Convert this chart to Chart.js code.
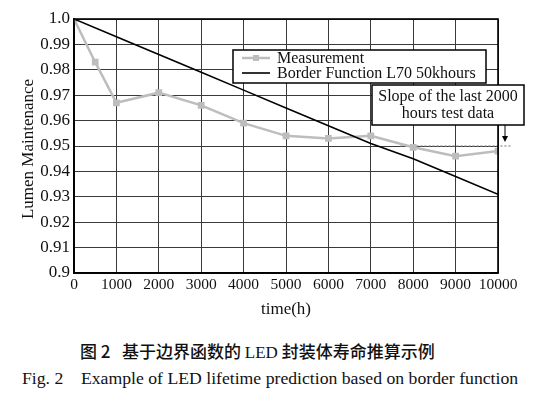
<!DOCTYPE html>
<html>
<head>
<meta charset="utf-8">
<script src="https://cdn.jsdelivr.net/npm/chart.js@4.4.0/dist/chart.umd.min.js"></script>
<style>
  html, body { margin: 0; padding: 0; background: #fff; }
  #wrap { position: relative; width: 552px; height: 403px; overflow: hidden; }
  #c { position: absolute; left: 0; top: 0; }
  .cap1 { position: absolute; left: 80px; top: 338px; font-family: "Noto Sans CJK SC", sans-serif; font-weight: 500; font-size: 17px; color: #111; white-space: nowrap; }
  .cap2 { position: absolute; left: 22px; top: 368px; font-family: "Liberation Serif", serif; font-size: 17.7px; color: #111; white-space: nowrap; }
</style>
</head>
<body>
<div id="wrap">
  <canvas id="c" width="552" height="320"></canvas>
  <div class="cap1">图 2&nbsp;&nbsp;&nbsp;基于边界函数的 <span style="font-family:'Liberation Serif',serif;font-weight:400">LED</span> 封装体寿命推算示例</div>
  <div class="cap2">Fig. 2&nbsp;&nbsp;&nbsp;&nbsp;Example of LED lifetime prediction based on border function</div>
</div>
<script>
// ---- data ----
const measHours   = [0, 500, 1000, 2000, 3000, 4000, 5000, 6000, 7000, 8000, 9000, 10000];
const measValues  = [1.0, 0.983, 0.967, 0.971, 0.966, 0.959, 0.954, 0.953, 0.954, 0.9495, 0.946, 0.948];
const borderHours = [0, 1000, 2000, 3000, 4000, 5000, 6000, 7000, 8000, 9000, 10000];
const borderValues= [1.0, 0.993, 0.986, 0.979, 0.972, 0.965, 0.958, 0.951, 0.945, 0.938, 0.931];
const slopeHours  = [7700, 10300];
const slopeValues = [0.95, 0.95];
const xTickValues = [0, 1000, 2000, 3000, 4000, 5000, 6000, 7000, 8000, 9000, 10000];
const xTickLabels = ['0','1000','2000','3000','4000','5000','6000','7000','8000','9000','10000'];
const yTickValues = [0.9, 0.91, 0.92, 0.93, 0.94, 0.95, 0.96, 0.97, 0.98, 0.99, 1.0];
const yTickLabels = ['0.9','0.91','0.92','0.93','0.94','0.95','0.96','0.97','0.98','0.99','1.0'];
const seriesNames = ['Measurement', 'Border Function L70 50khours', 'Slope'];
const noteLines   = ['Slope of the last 2000', 'hours test data'];
const xTitle = 'time(h)';
const yTitle = 'Lumen Maintenance';

const SERIF = "'Liberation Serif', serif";
const GRAY = '#bdbdbd';

const toPts = (xs, ys) => xs.map((x, i) => ({ x: x, y: ys[i] }));

const overlay = {
  id: 'overlay',
  afterDatasetsDraw(chart) {
    const ctx = chart.ctx, a = chart.chartArea;
    ctx.save();
    ctx.strokeStyle = '#000'; ctx.lineWidth = 1.6;
    ctx.strokeRect(a.left, a.top, a.right - a.left, a.bottom - a.top);
    // y-axis title
    ctx.save();
    ctx.translate(29, (a.top + a.bottom) / 2 + 3);
    ctx.rotate(-Math.PI / 2);
    ctx.font = '17px ' + SERIF; ctx.fillStyle = '#111';
    ctx.textAlign = 'center'; ctx.textBaseline = 'middle';
    ctx.fillText(yTitle, 0, 0);
    ctx.restore();
    // legend box
    const lx = 233, ly = 50, lw = 253, lh = 33;
    ctx.fillStyle = '#fff'; ctx.fillRect(lx, ly, lw, lh);
    ctx.strokeStyle = '#000'; ctx.lineWidth = 1.5; ctx.strokeRect(lx, ly, lw, lh);
    const ds = chart.data.datasets;
    const rows = [58, 73];
    ctx.font = '16px ' + SERIF; ctx.textBaseline = 'middle'; ctx.textAlign = 'left';
    for (let i = 0; i < 2; i++) {
      const y = rows[i];
      ctx.strokeStyle = ds[i].borderColor; ctx.lineWidth = ds[i].borderWidth;
      ctx.beginPath(); ctx.moveTo(242, y); ctx.lineTo(270, y); ctx.stroke();
      if (ds[i].pointRadius > 0) {
        ctx.fillStyle = ds[i].pointBackgroundColor;
        ctx.fillRect(256 - 3, y - 3, 6, 6);
      }
      ctx.fillStyle = '#111';
      ctx.fillText(ds[i].label, 277, y + 1);
    }
    // annotation box
    const bx = 372, by = 85, bw = 152, bh = 40;
    ctx.fillStyle = '#fff'; ctx.fillRect(bx, by, bw, bh);
    ctx.strokeStyle = '#000'; ctx.lineWidth = 1.5; ctx.strokeRect(bx, by, bw, bh);
    ctx.fillStyle = '#111'; ctx.textAlign = 'center';
    ctx.fillText(noteLines[0], bx + bw / 2, by + 12);
    ctx.fillText(noteLines[1], bx + bw / 2, by + 29);
    // arrow
    ctx.strokeStyle = '#000'; ctx.lineWidth = 1;
    ctx.beginPath(); ctx.moveTo(505, by + bh); ctx.lineTo(505, 138); ctx.stroke();
    ctx.fillStyle = '#000';
    ctx.beginPath(); ctx.moveTo(502, 136); ctx.lineTo(508, 136); ctx.lineTo(505, 142); ctx.closePath(); ctx.fill();
    ctx.restore();
  }
};

function build() {
  new Chart(document.getElementById('c'), {
    type: 'line',
    data: {
      datasets: [
        { label: seriesNames[0], data: toPts(measHours, measValues), borderColor: GRAY, borderWidth: 2.5,
          pointStyle: 'rect', pointRadius: 3, pointBackgroundColor: GRAY, pointBorderColor: GRAY, tension: 0, order: 2 },
        { label: seriesNames[1], data: toPts(borderHours, borderValues), borderColor: '#000', borderWidth: 1.6,
          pointRadius: 0, tension: 0, order: 1 },
        { label: seriesNames[2], data: toPts(slopeHours, slopeValues), borderColor: '#888', borderWidth: 1.2,
          borderDash: [2, 2], pointRadius: 0, tension: 0, clip: false, order: 3 }
      ]
    },
    options: {
      responsive: false,
      animation: false,
      devicePixelRatio: 1,
      layout: { padding: { left: 0, right: 54, top: 19, bottom: 0 } },
      plugins: { legend: { display: false }, tooltip: { enabled: false } },
      scales: {
        x: {
          type: 'linear', min: 0, max: 10000,
          afterBuildTicks: s => { s.ticks = xTickValues.map(v => ({ value: v })); },
          afterFit: s => { s.height = 47; },
          ticks: { callback: (v, i) => xTickLabels[i], color: '#111', font: { family: SERIF, size: 15.5 }, padding: 3, maxRotation: 0, autoSkip: false },
          grid: { color: '#3a3a3a', lineWidth: 1, drawTicks: false },
          border: { color: '#000', width: 1.6 },
          title: { display: true, text: xTitle, color: '#111', font: { family: SERIF, size: 17 }, padding: { top: 0, bottom: 0 } }
        },
        y: {
          type: 'linear', min: 0.9, max: 1.0,
          afterBuildTicks: s => { s.ticks = yTickValues.map(v => ({ value: v })); },
          afterFit: s => { s.width = 74; },
          ticks: { callback: (v, i) => yTickLabels[i], color: '#111', font: { family: SERIF, size: 17 }, padding: 4, autoSkip: false },
          grid: { color: '#3a3a3a', lineWidth: 1, drawTicks: false },
          border: { color: '#000', width: 1.6 },
          title: { display: false }
        }
      }
    },
    plugins: [overlay]
  });
}

Promise.all([
  document.fonts.load("17px 'Liberation Serif'"),
  document.fonts.load("17px 'Noto Sans CJK SC'", "图")
]).then(build, build);
</script>
</body>
</html>
